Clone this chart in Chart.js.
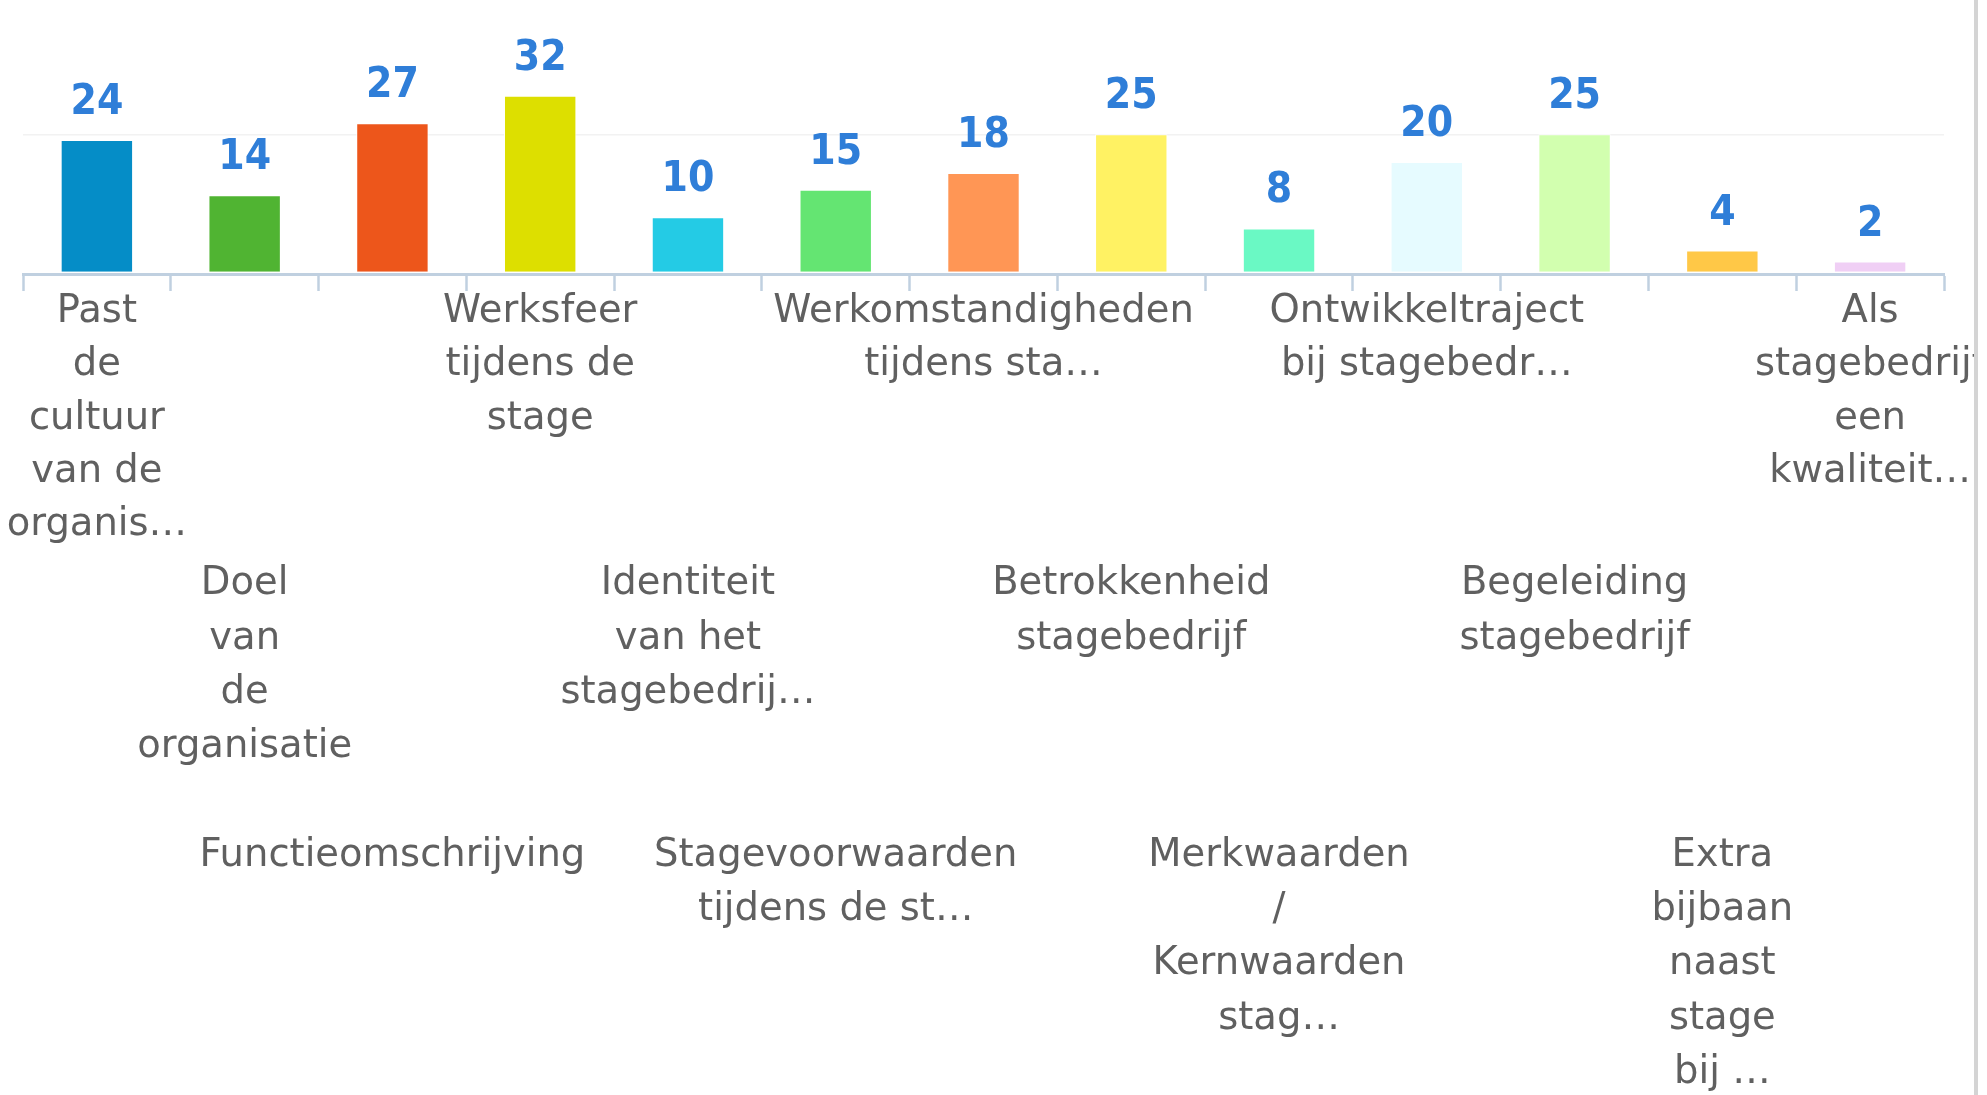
<!DOCTYPE html>
<html>
<head>
<meta charset="utf-8">
<script src="https://cdn.jsdelivr.net/npm/chart.js@4.4.1/dist/chart.umd.min.js"></script>
<style>
  html, body { margin: 0; padding: 0; background: #ffffff; }
  #wrap { position: relative; width: 1987px; height: 1095px; overflow: hidden; background: #fff; }
  #c { position: absolute; left: 0; top: 0; }
  #edge { position: absolute; left: 1974px; top: 0; width: 4px; height: 1095px; background: #d4d4d4; }
</style>
</head>
<body>
<div id="wrap">
  <canvas id="c" width="1974" height="1095"></canvas>
  <div id="edge"></div>
</div>
<script>
// ---- data ----
const categories = [
  ["Past", "de", "cultuur", "van de", "organis\u2026"],
  ["Doel", "van", "de", "organisatie"],
  ["Functieomschrijving"],
  ["Werksfeer", "tijdens de", "stage"],
  ["Identiteit", "van het", "stagebedrij\u2026"],
  ["Stagevoorwaarden", "tijdens de st\u2026"],
  ["Werkomstandigheden", "tijdens sta\u2026"],
  ["Betrokkenheid", "stagebedrijf"],
  ["Merkwaarden", "/", "Kernwaarden", "stag\u2026"],
  ["Ontwikkeltraject", "bij stagebedr\u2026"],
  ["Begeleiding", "stagebedrijf"],
  ["Extra", "bijbaan", "naast", "stage", "bij \u2026"],
  ["Als", "stagebedrijf", "een", "kwaliteit\u2026"]
];
const values = [24, 14, 27, 32, 10, 15, 18, 25, 8, 20, 25, 4, 2];
const barColors = [
  "#058DC7", "#50B432", "#ED561B", "#DDDF00", "#24CBE5", "#64E572", "#FF9655",
  "#FFF263", "#6AF9C4", "#E6FBFF", "#D2FFAF", "#FFC847", "#F0CFF5"
];
const gridValues = [25];
const staggerRows = 3;

// ---- layout constants ----
const CANVAS_H = 1095;
const PLOT_BOTTOM = 274;
const FONT_SIZE = 38.5;
const LINE_H_FIRST = 53.2;
const LINE_H_STAGGER = 54.3;
const LINES_PER_ROW = 5;

const valueLabels = {
  id: 'valueLabels',
  afterDatasetsDraw(chart) {
    const ctx = chart.ctx;
    const meta = chart.getDatasetMeta(0);
    meta.data.forEach((bar, i) => {
      ctx.save();
      ctx.fillStyle = '#2F7ED8';
      ctx.font = 'bold 38px "DejaVu Sans"';
      ctx.textAlign = 'center';
      ctx.textBaseline = 'middle';
      const y = bar.y - 37;
      ctx.translate(bar.x, y);
      ctx.scale(1, 1.12);
      ctx.fillText(String(values[i]), 0, 0);
      ctx.restore();
    });
  }
};

new Chart(document.getElementById('c'), {
  type: 'bar',
  data: {
    labels: categories,
    datasets: [{
      data: values,
      backgroundColor: barColors,
      borderColor: '#ffffff',
      borderWidth: 1,
      barPercentage: 0.49,
      categoryPercentage: 1.0
    }]
  },
  options: {
    responsive: false,
    animation: false,
    layout: { padding: { left: 23, right: 30, top: 0, bottom: 0 } },
    plugins: { legend: { display: false }, tooltip: { enabled: false } },
    scales: {
      x: {
        offset: true,
        grid: {
          offset: true,
          drawOnChartArea: false,
          drawTicks: true,
          tickLength: 17,
          tickColor: '#C0D0E0',
          tickWidth: 2.5
        },
        border: { display: true, color: '#C0D0E0', width: 3 },
        ticks: {
          autoSkip: false,
          maxRotation: 0,
          minRotation: 0,
          padding: -5.4,
          color: '#606060',
          font: function (ctx) {
            const lh = (ctx.index % staggerRows === 0) ? LINE_H_FIRST : LINE_H_STAGGER;
            return { family: '"DejaVu Sans"', size: FONT_SIZE, lineHeight: lh / FONT_SIZE };
          },
          callback: function (value, index) {
            const pad = new Array((index % staggerRows) * LINES_PER_ROW).fill('');
            return pad.concat(categories[index]);
          }
        },
        afterFit: function (scale) {
          scale.height = CANVAS_H - PLOT_BOTTOM;
          scale.paddingLeft = 0;
          scale.paddingRight = 0;
        }
      },
      y: {
        min: -0.25,
        max: 49.3,
        grid: {
          drawTicks: false,
          lineWidth: 1.5,
          color: (ctx) => (ctx.tick && gridValues.includes(ctx.tick.value)) ? '#F2F2F2' : 'rgba(0,0,0,0)'
        },
        border: { display: false },
        ticks: {
          display: false,
          stepSize: 25,
          callback: (v) => v
        },
        afterBuildTicks: function (scale) {
          scale.ticks = [{ value: 0 }].concat(gridValues.map(v => ({ value: v })));
        }
      }
    }
  },
  plugins: [valueLabels]
});
</script>
</body>
</html>
